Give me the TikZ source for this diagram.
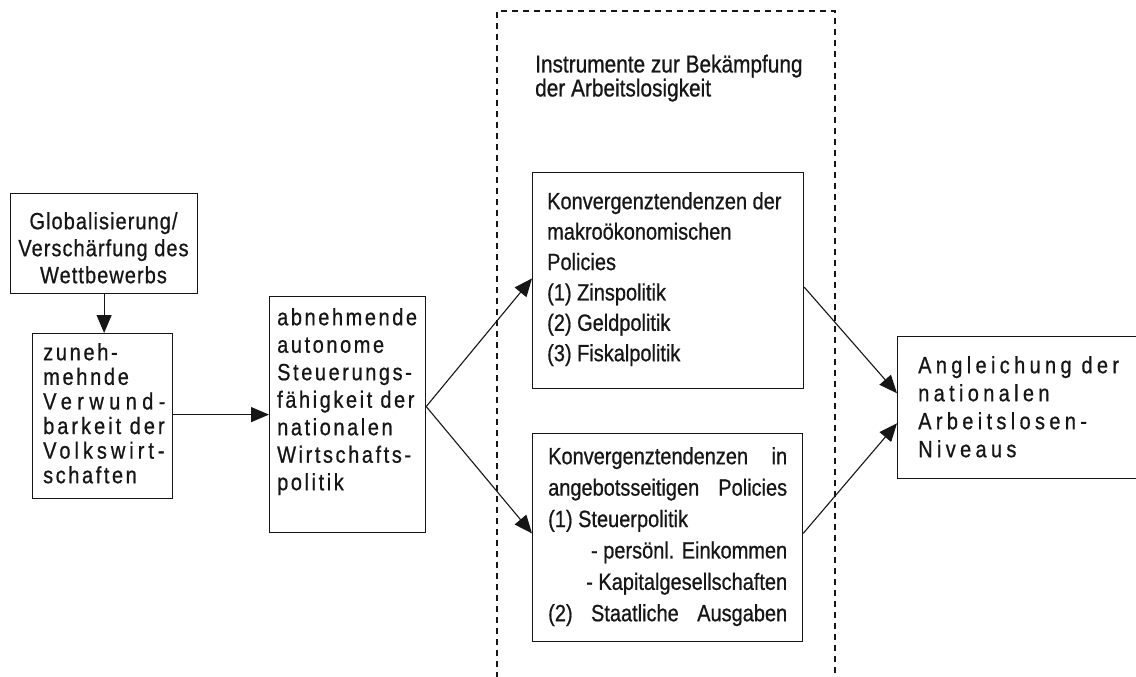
\documentclass[tikz,border=0pt]{standalone}
\usepackage{fontspec}
\setmainfont{Liberation Sans}[FakeStretch=0.85,FakeBold=0.7]
\usetikzlibrary{arrows.meta,calc}
\definecolor{ink}{HTML}{161616}
\begin{document}
\begin{tikzpicture}[x=1pt,y=-1pt,
  box/.style={draw=ink,line width=1.2pt,inner sep=0pt,anchor=north west},
  txt/.style={inner sep=0pt,anchor=north west,align=left,text=ink},
  arr/.style={draw=ink,line width=1.1pt,-{Triangle[length=18pt,width=15pt]}},
  dashframe/.style={draw=ink,line width=1.1pt,dash pattern=on 6pt off 5pt}]
\useasboundingbox (0,0) rectangle (1136,677);
\clip (0,0) rectangle (1136,677);
\fill[white] (0,0) rectangle (1136,677);

% dashed frame
\draw[dashframe] (497,700) -- (497,11) -- (835,11) -- (835,700);
\node[txt,font=\fontsize{24.5}{24}\selectfont] (instr) at (535,54.5)
  {Instrumente zur Bekämpfung\\der Arbeitslosigkeit};

% boxes
\node[box,minimum width=187pt,minimum height=100pt] (glob) at (10,193) {};
\node[box,minimum width=140pt,minimum height=165pt] (zuneh) at (32,333) {};
\node[box,minimum width=156pt,minimum height=236pt] (abn) at (269,296) {};
\node[box,minimum width=271pt,minimum height=216pt] (makro) at (532,172) {};
\node[box,minimum width=270pt,minimum height=208pt] (angebot) at (532,433) {};
\node[box,minimum width=260pt,minimum height=142pt] (angl) at (897,336) {};

% texts
\node[txt,anchor=north,align=center,font=\fontsize{23.5}{27}\selectfont\addfontfeature{LetterSpace=4.5}] (globt) at (103.5,212)
  {Globalisierung/\\Verschärfung des\\Wettbewerbs};
\node[txt,font=\fontsize{23.5}{24.6}\selectfont] (zunehmt) at (43,343)
  {{\addfontfeature{LetterSpace=11.5}zuneh-}\\
   {\addfontfeature{LetterSpace=11.5}mehnde}\\
   {\addfontfeature{LetterSpace=23}Verwund-}\\
   {\addfontfeature{LetterSpace=12.8}barkeit der}\\
   {\addfontfeature{LetterSpace=17}Volkswirt-}\\
   {\addfontfeature{LetterSpace=11}schaften}};
\node[txt,font=\fontsize{23.5}{27.5}\selectfont\addfontfeature{LetterSpace=11}] (abnt) at (277,308)
  {abnehmende\\autonome\\Steuerungs-\\fähigkeit der\\nationalen\\Wirtschafts-\\politik};
\node[txt,font=\fontsize{23.5}{30.4}\selectfont] (makrot) at (547,192)
  {Konvergenztendenzen der\\makroökonomischen\\Policies\\(1) Zinspolitik\\(2) Geldpolitik\\(3) Fiskalpolitik};
\node[txt,font=\fontsize{23.5}{31.4}\selectfont] (angebott) at (548,447)
  {\makebox[239pt][s]{Konvergenztendenzen in}\\
   \makebox[239pt][s]{angebotsseitigen Policies}\\
   (1) Steuerpolitik\\
   \makebox[239pt][r]{- persönl. Einkommen}\\
   \makebox[239pt][r]{- Kapitalgesellschaften}\\
   \makebox[239pt][s]{(2) Staatliche Ausgaben}};
\node[txt,font=\fontsize{23.5}{28}\selectfont\addfontfeature{LetterSpace=18.5}] (anglt) at (918,356)
  {Angleichung der\\nationalen\\Arbeitslosen-\\Niveaus};

% connectors
\coordinate (abnout) at ($(abn.north east)!0.466!(abn.south east)$);
\draw[arr] (glob.south) -- (glob.south |- zuneh.north);
\draw[arr] (zuneh.east |- abn.west) -- (abn.west);
\draw[arr] (abnout) -- ($(makro.north west)!0.49!(makro.south west)$);
\draw[arr] (abnout) -- ($(angebot.north west)!0.48!(angebot.south west)$);
\draw[arr] ($(makro.north east)!0.53!(makro.south east)$) -- ($(angl.north west)!0.40!(angl.south west)$);
\draw[arr] ($(angebot.north east)!0.48!(angebot.south east)$) -- ($(angl.north west)!0.61!(angl.south west)$);
\end{tikzpicture}
\end{document}
